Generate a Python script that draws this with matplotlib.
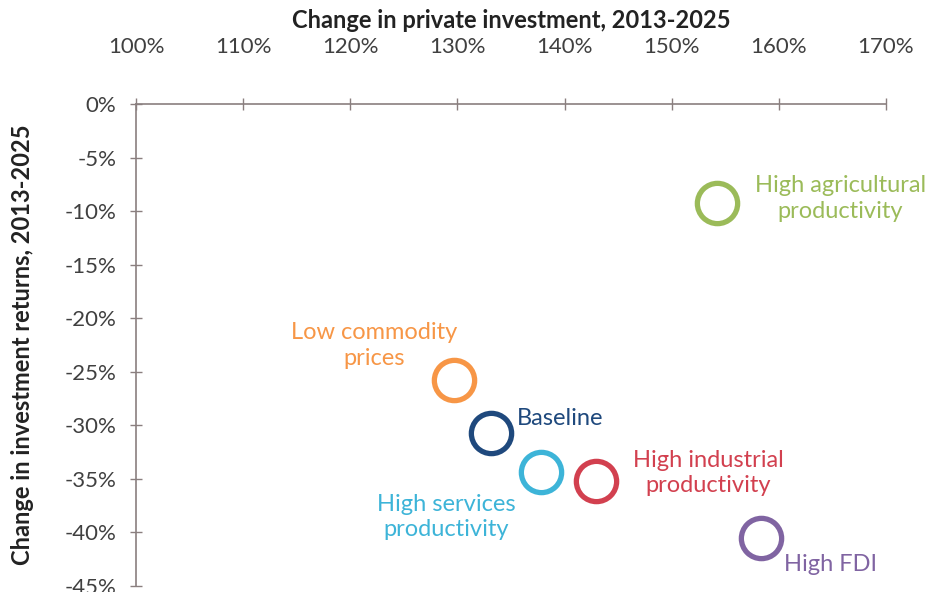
import matplotlib.pyplot as plt
from matplotlib.ticker import FuncFormatter

plt.rcParams['font.family'] = ['Lato', 'DejaVu Sans']

# scenario results
scenarios = ['High agricultural\nproductivity', 'Low commodity\nprices', 'Baseline',
             'High industrial\nproductivity', 'High services\nproductivity', 'High FDI']
investment = [154.2, 129.7, 133.1, 142.9, 137.8, 158.3]   # % of 2013 level
returns = [-9.2, -25.8, -30.7, -35.2, -34.4, -40.5]         # % change
colors = ['#9BBB59', '#F79646', '#1F497D', '#D2404F', '#3DB4D8', '#8064A2']

# label placement (offset points, alignment)
offsets = [(89, 3), (-58, 25), (19, 10), (81, 6), (-68, -32), (17, -19)]
aligns = ['center', 'center', 'left', 'center', 'center', 'left']

fig = plt.figure(figsize=(9.33, 5.92), dpi=100)
ax = fig.add_axes([136 / 933, 1 - 586 / 592, 750 / 933, 482 / 592])

for x, y, c, name, off, ha in zip(investment, returns, colors, scenarios, offsets, aligns):
    ax.plot(x, y, 'o', ms=29, mfc='none', mec=c, mew=3.8, clip_on=False)
    ax.annotate(name, (x, y), xytext=off, textcoords='offset points',
                ha=ha, va='center', color=c, fontsize=17, linespacing=1.25)

ax.set_xlim(100, 170)
ax.set_ylim(-45, 0)
ax.set_xticks(range(100, 171, 10))
ax.set_yticks(range(-45, 1, 5))
pct = FuncFormatter(lambda v, p: '%d%%' % v)
ax.xaxis.set_major_formatter(pct)
ax.yaxis.set_major_formatter(pct)

ax.xaxis.tick_top()
ax.xaxis.set_label_position('top')
for s in ['right', 'bottom']:
    ax.spines[s].set_visible(False)
for s in ['top', 'left']:
    ax.spines[s].set_color('#8a7f7f')
    ax.spines[s].set_linewidth(1.2)
ax.tick_params(direction='inout', length=8, width=1, color='#8a7f7f',
               labelsize=16, labelcolor='#404040', pad=10)
ax.tick_params(axis='x', pad=30)

ax.set_xlabel('Change in private investment, 2013-2025', fontsize=17,
              fontweight='bold', color='#222222', labelpad=6)
ax.set_ylabel('Change in investment returns, 2013-2025', fontsize=17,
              fontweight='bold', color='#222222', labelpad=22)

fig.savefig('out.png', dpi=100)
